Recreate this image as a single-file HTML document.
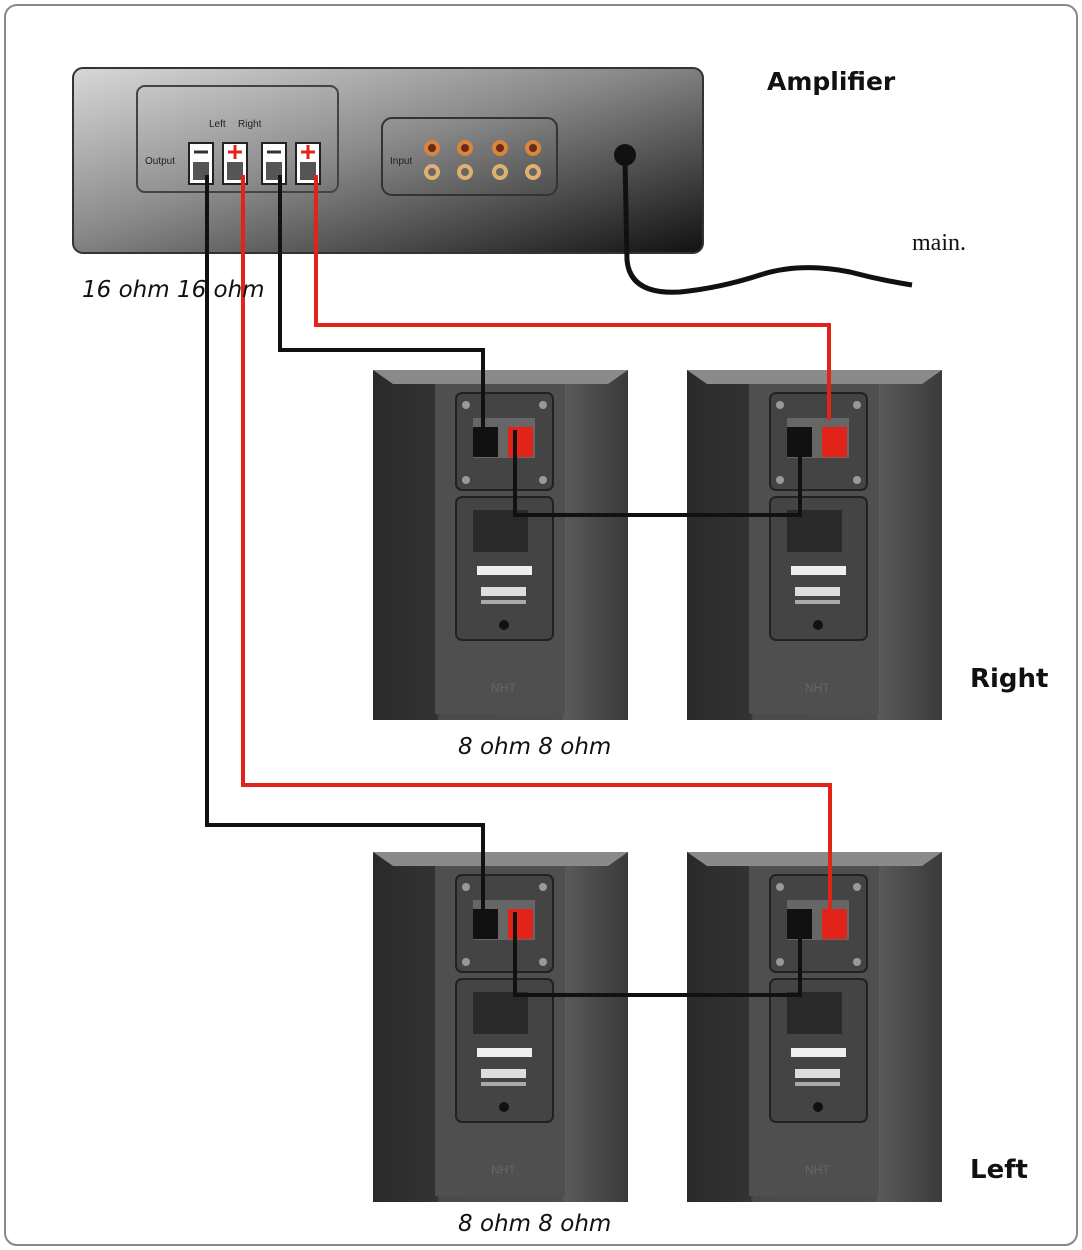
<!DOCTYPE html>
<html><head><style>
html,body{margin:0;padding:0;background:#fff;}
svg{display:block;}
</style></head><body>
<svg width="1082" height="1250" viewBox="0 0 1082 1250" xmlns="http://www.w3.org/2000/svg">
<defs>
<linearGradient id="amp" x1="0" y1="0" x2="1" y2="1">
<stop offset="0" stop-color="#d8d8d8"/><stop offset="0.45" stop-color="#8a8a8a"/><stop offset="1" stop-color="#111"/>
</linearGradient>
<linearGradient id="spk" x1="0" y1="0" x2="1" y2="0">
<stop offset="0" stop-color="#2a2a2a"/><stop offset="0.25" stop-color="#333"/><stop offset="0.26" stop-color="#4a4a4a"/><stop offset="0.74" stop-color="#4d4d4d"/><stop offset="0.75" stop-color="#5a5a5a"/><stop offset="1" stop-color="#3a3a3a"/>
</linearGradient>
<g id="speaker">
<rect x="0" y="0" width="255" height="350" fill="url(#spk)"/>
<polygon points="0,0 255,0 235,14 20,14" fill="#8a8a8a"/>
<rect x="62" y="14" width="130" height="330" fill="#4f4f4f"/>
<rect x="83" y="23" width="97" height="97" rx="6" fill="#444" stroke="#222" stroke-width="2"/>
<circle cx="93" cy="35" r="4" fill="#999"/><circle cx="170" cy="35" r="4" fill="#999"/>
<circle cx="93" cy="110" r="4" fill="#999"/><circle cx="170" cy="110" r="4" fill="#999"/>
<rect x="100" y="48" width="62" height="40" fill="#666"/>
<rect x="100" y="57" width="25" height="30" fill="#111"/>
<rect x="135" y="57" width="25" height="30" fill="#e2231a"/>
<rect x="83" y="127" width="97" height="143" rx="6" fill="#444" stroke="#222" stroke-width="2"/>
<rect x="100" y="140" width="55" height="42" fill="#2a2a2a"/>
<rect x="104" y="196" width="55" height="9" fill="#eee"/>
<rect x="108" y="217" width="45" height="9" fill="#ddd"/>
<rect x="108" y="230" width="45" height="4" fill="#aaa"/>
<circle cx="131" cy="255" r="5" fill="#111"/>
<text x="118" y="322" font-family="Liberation Sans,sans-serif" font-size="12" fill="#666">NHT</text>
</g>
</defs>
<rect x="5" y="5" width="1072" height="1240" rx="12" fill="#fff" stroke="#888" stroke-width="2"/>
<!-- amp -->
<rect x="73" y="68" width="630" height="185" rx="10" fill="url(#amp)" stroke="#333" stroke-width="2"/>
<rect x="137" y="86" width="201" height="106" rx="8" fill="none" stroke="#444" stroke-width="2"/>
<rect x="382" y="118" width="175" height="77" rx="10" fill="none" stroke="#333" stroke-width="2"/>
<text x="209" y="127" font-family="Liberation Sans,sans-serif" font-size="10" fill="#222">Left</text>
<text x="238" y="127" font-family="Liberation Sans,sans-serif" font-size="10" fill="#222">Right</text>
<text x="145" y="164" font-family="Liberation Sans,sans-serif" font-size="10" fill="#222">Output</text>
<text x="390" y="164" font-family="Liberation Sans,sans-serif" font-size="10" fill="#222">Input</text>
<g stroke="#222" stroke-width="2" fill="#fff">
<rect x="189" y="143" width="24" height="41"/><rect x="223" y="143" width="24" height="41"/>
<rect x="262" y="143" width="24" height="41"/><rect x="296" y="143" width="24" height="41"/>
</g>
<g fill="#555"><rect x="193" y="162" width="16" height="18"/><rect x="227" y="162" width="16" height="18"/><rect x="266" y="162" width="16" height="18"/><rect x="300" y="162" width="16" height="18"/></g>
<g stroke="#333" stroke-width="3"><line x1="194" y1="152" x2="208" y2="152"/><line x1="267" y1="152" x2="281" y2="152"/></g>
<g stroke="#e2231a" stroke-width="3"><line x1="228" y1="152" x2="242" y2="152"/><line x1="235" y1="145" x2="235" y2="159"/><line x1="301" y1="152" x2="315" y2="152"/><line x1="308" y1="145" x2="308" y2="159"/></g>
<g stroke="#d9853b" stroke-width="4" fill="#6a2a1a">
<circle cx="432" cy="148" r="6"/><circle cx="465" cy="148" r="6"/><circle cx="500" cy="148" r="6"/><circle cx="533" cy="148" r="6"/>
</g>
<g stroke="#e0b070" stroke-width="4" fill="#666">
<circle cx="432" cy="172" r="6"/><circle cx="465" cy="172" r="6"/><circle cx="500" cy="172" r="6"/><circle cx="533" cy="172" r="6"/>
</g>
<circle cx="625" cy="155" r="11" fill="#111"/>
<path d="M625,160 L627,260 Q630,295 680,292 Q720,288 760,275 Q800,262 850,272 Q880,280 912,285" fill="none" stroke="#111" stroke-width="5"/>
<text x="767" y="90" font-family="DejaVu Sans,sans-serif" font-weight="bold" font-size="25" fill="#111">Amplifier</text>
<text x="912" y="250" font-family="Liberation Serif,serif" font-size="24" fill="#111">main.</text>
<!-- speakers -->
<use href="#speaker" x="373" y="370"/>
<use href="#speaker" x="687" y="370"/>
<use href="#speaker" x="373" y="852"/>
<use href="#speaker" x="687" y="852"/>
<!-- wires -->
<g fill="none" stroke-width="4">
<path d="M207,175 V825 H483 V910" stroke="#111"/>
<path d="M243,175 V785 H830 V920" stroke="#e2231a"/>
<path d="M280,175 V350 H483 V430" stroke="#111"/>
<path d="M316,175 V325 H829 V420" stroke="#e2231a"/>
<path d="M515,430 V515 H800 V430" stroke="#111"/>
<path d="M515,912 V995 H800 V912" stroke="#111"/>
</g>
<text x="82" y="297" font-family="DejaVu Sans,sans-serif" font-style="italic" font-size="23" fill="#111">16 ohm 16 ohm</text>
<text x="458" y="754" font-family="DejaVu Sans,sans-serif" font-style="italic" font-size="23" fill="#111">8 ohm 8 ohm</text>
<text x="458" y="1231" font-family="DejaVu Sans,sans-serif" font-style="italic" font-size="23" fill="#111">8 ohm 8 ohm</text>
<text x="970" y="687" font-family="DejaVu Sans,sans-serif" font-weight="bold" font-size="26" fill="#111">Right</text>
<text x="970" y="1178" font-family="DejaVu Sans,sans-serif" font-weight="bold" font-size="26" fill="#111">Left</text>
</svg>
</body></html>
